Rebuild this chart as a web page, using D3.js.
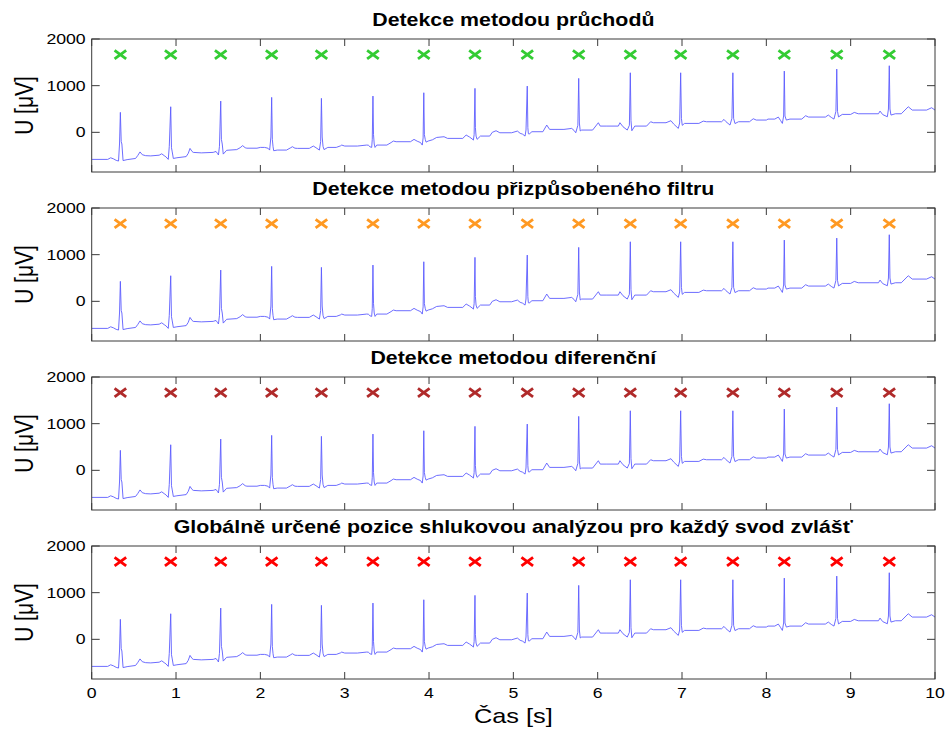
<!DOCTYPE html>
<html>
<head>
<meta charset="utf-8">
<script src="https://cdn.jsdelivr.net/npm/d3@7"></script>
<style>
  body { margin: 0; background: #fff; }
  svg text { font-family: "Liberation Sans", Arial, Helvetica, sans-serif; fill: #000; }
</style>
</head>
<body>
<svg id="chart" width="948" height="729"></svg>
<script>
// ---- data -------------------------------------------------------------
const timeTicks = [0, 1, 2, 3, 4, 5, 6, 7, 8, 9, 10];
const voltTicks = [0, 1000, 2000];
const timeDomain = [0, 10];
const voltDomain = [-850, 2000];

const panelTitles = [
  "Detekce metodou průchodů",
  "Detekce metodou přizpůsobeného filtru",
  "Detekce metodou diferenční",
  "Globálně určené pozice shlukovou analýzou pro každý svod zvlášť"
];
const markerColors = ["#33cc33", "#ff9922", "#b02a2a", "#ff0000"];

// detected QRS positions [s] for each method
const detPassages = [0.34, 0.937, 1.53, 2.134, 2.724, 3.335, 3.938, 4.545, 5.165, 5.775, 6.387, 6.984, 7.603, 8.213, 8.835, 9.458];
const detMatched  = [0.34, 0.937, 1.53, 2.134, 2.724, 3.335, 3.938, 4.545, 5.165, 5.775, 6.387, 6.984, 7.603, 8.213, 8.835, 9.458];
const detDiff     = [0.34, 0.937, 1.53, 2.134, 2.724, 3.335, 3.938, 4.545, 5.165, 5.775, 6.387, 6.984, 7.603, 8.213, 8.835, 9.458];
const detCluster  = [0.34, 0.937, 1.53, 2.134, 2.724, 3.335, 3.938, 4.545, 5.165, 5.775, 6.387, 6.984, 7.603, 8.213, 8.835, 9.458];
const detections = [detPassages, detMatched, detDiff, detCluster];
const markerLevel = 1665; // µV, row where detections are marked

// ECG lead, [time s, voltage µV]
const ecgSamples = [
  [0, -580], [0.19, -580], [0.225, -545], [0.26, -570], [0.29, -600], [0.318, -615],
  [0.33, -250], [0.34, 428], [0.35, -200], [0.358, -250], [0.372, -605], [0.42, -585],
  [0.52, -560], [0.545, -500], [0.573, -420], [0.6, -480], [0.64, -500],
  [0.7, -505], [0.8, -490], [0.83, -460], [0.86, -500], [0.88, -525], [0.908, -580],
  [0.92, -300], [0.937, 548], [0.946, -330], [0.955, -420], [0.968, -560], [1.01, -545],
  [1.12, -520], [1.145, -450], [1.166, -345], [1.19, -410], [1.205, -430], [1.3, -440],
  [1.44, -430], [1.474, -410], [1.49, -450], [1.503, -485],
  [1.515, -300], [1.53, 670], [1.538, -150], [1.548, -250], [1.56, -466], [1.6, -385],
  [1.72, -370], [1.76, -330], [1.79, -285], [1.82, -330], [1.84, -340], [1.96, -340],
  [2.0, -323], [2.05, -323], [2.09, -340], [2.11, -380],
  [2.125, -100], [2.134, 749], [2.142, -150], [2.15, -300], [2.158, -394], [2.2, -380],
  [2.31, -380], [2.36, -330], [2.38, -308], [2.41, -340], [2.44, -344], [2.58, -344],
  [2.628, -294], [2.66, -330], [2.7, -380],
  [2.715, -200], [2.724, 728], [2.733, -100], [2.743, -300], [2.755, -370], [2.8, -323],
  [2.9, -323], [2.95, -290], [2.965, -273], [3.0, -294], [3.15, -294], [3.26, -273],
  [3.28, -275], [3.3, -310], [3.32, -323],
  [3.327, -150], [3.335, 777], [3.342, -50], [3.35, -250], [3.36, -323], [3.38, -273],
  [3.5, -273], [3.55, -220], [3.577, -187], [3.61, -201], [3.78, -201], [3.822, -151],
  [3.86, -190], [3.9, -220], [3.92, -273],
  [3.93, -120], [3.938, 848], [3.945, -50], [3.955, -150], [3.965, -210], [3.99, -187],
  [4.04, -160], [4.09, -110], [4.178, -94], [4.22, -130], [4.4, -130], [4.44, -58],
  [4.48, -100], [4.51, -140], [4.526, -166],
  [4.535, -50], [4.545, 942], [4.55, 100], [4.558, -80], [4.57, -150], [4.61, -80],
  [4.72, -80], [4.75, 0], [4.795, 34], [4.84, -9], [4.98, -9], [5.048, 27],
  [5.08, -20], [5.11, -40], [5.139, -80],
  [5.15, 50], [5.165, 991], [5.172, 100], [5.178, -30], [5.186, -40], [5.22, 13],
  [5.35, 13], [5.396, 156], [5.43, 63], [5.6, 63], [5.692, 84], [5.72, 40], [5.74, -9],
  [5.765, 150], [5.775, 1156], [5.783, 200], [5.793, 30], [5.81, 49], [5.94, 49],
  [6.008, 206], [6.03, 134], [6.1, 134], [6.245, 134], [6.264, 206], [6.3, 120], [6.351, 49],
  [6.376, 150], [6.387, 1276], [6.395, 250], [6.405, 34], [6.44, 134], [6.58, 134],
  [6.628, 227], [6.66, 206], [6.81, 206], [6.869, 249], [6.9, 180], [6.956, 84],
  [6.972, 200], [6.984, 1276], [6.993, 300], [7.003, 150], [7.03, 191], [7.2, 191],
  [7.252, 240], [7.29, 227], [7.47, 227], [7.498, 277], [7.52, 230], [7.569, 156],
  [7.592, 300], [7.603, 1276], [7.612, 300], [7.628, 188], [7.67, 227], [7.8, 227],
  [7.845, 291], [7.88, 263], [8.0, 263], [8.02, 284], [8.1, 284], [8.142, 327],
  [8.17, 250], [8.19, 191],
  [8.205, 350], [8.213, 1312], [8.221, 350], [8.237, 263], [8.28, 284], [8.42, 284],
  [8.466, 356], [8.5, 327], [8.7, 327], [8.735, 370], [8.77, 320], [8.802, 284],
  [8.825, 450], [8.835, 1355], [8.844, 450], [8.856, 330], [8.9, 384], [9.0, 384],
  [9.043, 427], [9.09, 398], [9.33, 398], [9.348, 455], [9.38, 380], [9.435, 334],
  [9.448, 500], [9.458, 1427], [9.466, 500], [9.478, 370], [9.53, 398], [9.6, 398],
  [9.683, 548], [9.73, 477], [9.9, 477], [9.96, 527], [10.0, 477]
];

// ---- layout -----------------------------------------------------------
const svg = d3.select("#chart");
const plotLeft = 91.7, plotRight = 935;
const panelTops = [39, 208, 377, 546];
const panelHeight = 133;
const stretch = 1.22;           // horizontal stretch of the lettering
const axisColor = "#3a3a3a";

const x = d3.scaleLinear().domain(timeDomain).range([plotLeft, plotRight]);

function label(g, txt, px, py, size, anchor, weight) {
  return g.append("text")
    .attr("transform", `translate(${px},${py}) scale(${stretch},1)`)
    .attr("text-anchor", anchor)
    .style("font-size", size + "px")
    .style("font-weight", weight || "normal")
    .text(txt);
}

const line = d3.line();

panelTitles.forEach((title, i) => {
  const top = panelTops[i];
  const y = d3.scaleLinear().domain(voltDomain).range([top + panelHeight, top]);
  const g = svg.append("g");

  // signal, clipped to the axes box
  const clipId = "clip" + i;
  g.append("clipPath").attr("id", clipId)
    .append("rect").attr("x", plotLeft).attr("y", top)
    .attr("width", plotRight - plotLeft).attr("height", panelHeight);

  g.append("path")
    .attr("clip-path", `url(#${clipId})`)
    .attr("d", line(ecgSamples.map(d => [x(d[0]), y(d[1])])))
    .attr("fill", "none")
    .attr("stroke", "#5c5cff")
    .attr("stroke-width", 0.9)
    .attr("stroke-linejoin", "round");

  // detection markers (x)
  const mk = g.append("g")
    .attr("stroke", markerColors[i])
    .attr("stroke-width", 2.8)
    .attr("stroke-linecap", "butt");
  detections[i].forEach(t => {
    const cx = x(t), cy = y(markerLevel);
    mk.append("path").attr("d", `M${cx - 5.8},${cy - 4.3}L${cx + 5.8},${cy + 4.3}M${cx - 5.8},${cy + 4.3}L${cx + 5.8},${cy - 4.3}`);
  });

  // axes box
  g.append("rect")
    .attr("x", plotLeft).attr("y", top)
    .attr("width", plotRight - plotLeft).attr("height", panelHeight)
    .attr("fill", "none").attr("stroke", axisColor).attr("stroke-width", 1);

  // ticks (inward, on all four sides)
  const tg = g.append("g").attr("stroke", axisColor).attr("stroke-width", 1);
  timeTicks.forEach(t => {
    tg.append("line").attr("x1", x(t)).attr("x2", x(t)).attr("y1", top).attr("y2", top + 7);
    tg.append("line").attr("x1", x(t)).attr("x2", x(t)).attr("y1", top + panelHeight).attr("y2", top + panelHeight - 7);
  });
  voltTicks.forEach(v => {
    tg.append("line").attr("x1", plotLeft).attr("x2", plotLeft + 8).attr("y1", y(v)).attr("y2", y(v));
    tg.append("line").attr("x1", plotRight).attr("x2", plotRight - 8).attr("y1", y(v)).attr("y2", y(v));
  });

  // y tick labels
  voltTicks.forEach(v => {
    label(g, d3.format("d")(v), plotLeft - 6, y(v) + 5, 14.5, "end");
  });

  // y axis label
  g.append("text")
    .attr("transform", `translate(33,${top + panelHeight / 2}) rotate(-90) scale(1,${stretch})`)
    .attr("text-anchor", "middle")
    .style("font-size", "21px")
    .text("U [μV]");

  // title
  label(g, title, (plotLeft + plotRight) / 2, top - 13, 17.5, "middle", "bold");

  // x tick labels only under the last panel
  if (i === panelTitles.length - 1) {
    timeTicks.forEach(t => {
      label(g, String(t), x(t), top + panelHeight + 19, 14.5, "middle");
    });
    label(g, "Čas [s]", (plotLeft + plotRight) / 2, 723, 20.8, "middle");
  }
});
</script>
</body>
</html>
